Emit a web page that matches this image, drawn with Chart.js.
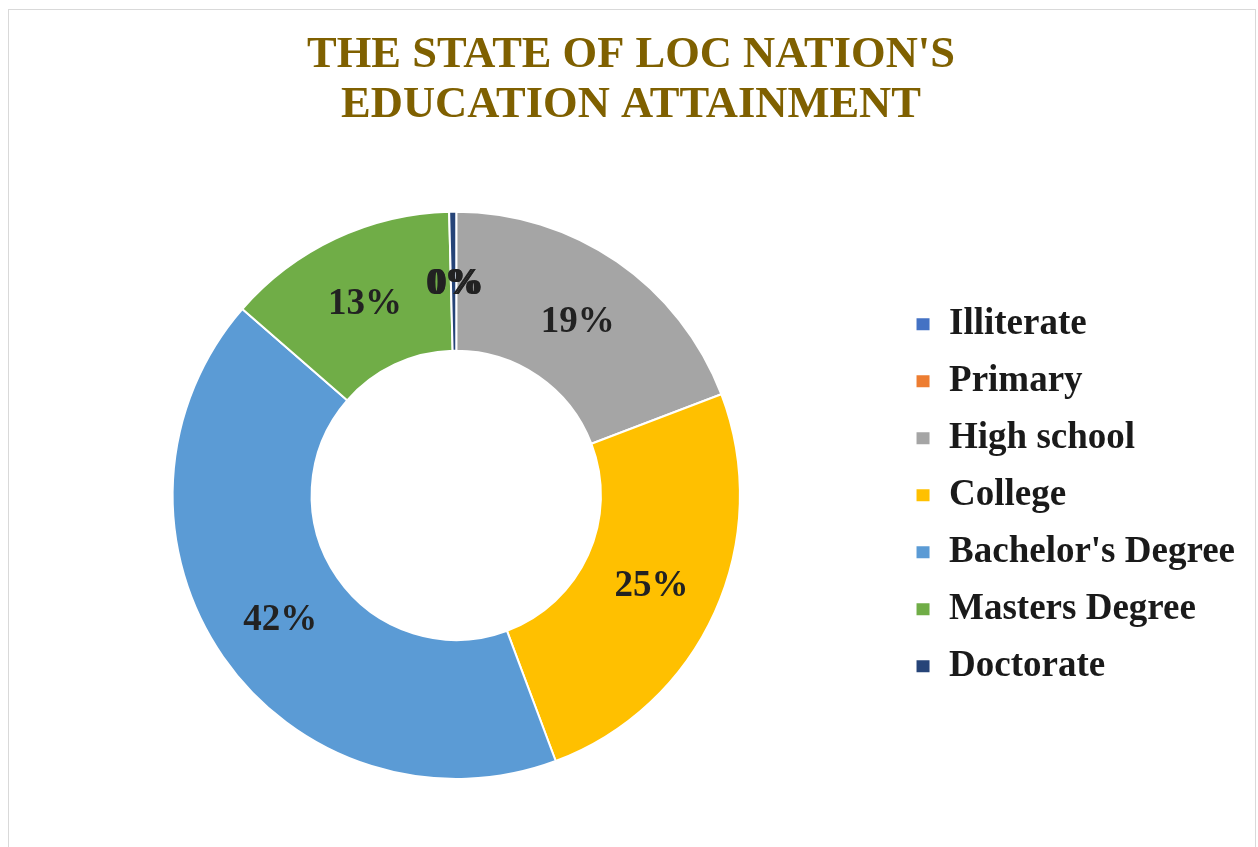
<!DOCTYPE html>
<html>
<head>
<meta charset="utf-8">
<script src="https://cdn.jsdelivr.net/npm/chart.js@4"></script>
<style>
  html, body { margin: 0; padding: 0; background: #fff; overflow: hidden; }
  #frame { position: absolute; left: 8px; top: 9px; width: 1248px; height: 860px; border: 1px solid #d9d9d9; box-sizing: border-box; }
  #chart { position: absolute; left: 3px; top: 1px; }
</style>
</head>
<body>
<div id="frame"></div>
<canvas id="chart" width="1258" height="847"></canvas>
<script>
const titleLines = ["THE STATE OF LOC NATION'S", "EDUCATION ATTAINMENT"];
const categories = ["Illiterate", "Primary", "High school", "College", "Bachelor's Degree", "Masters Degree", "Doctorate"];
const shares = [0, 0, 19.2, 25.1, 42.1, 13.2, 0.4];
const sliceColors = ["#4472C4", "#ED7D31", "#A5A5A5", "#FFC000", "#5B9BD5", "#70AD47", "#264478"];

const serif = "'Liberation Serif', 'Times New Roman', serif";

// percent labels in the middle of each ring segment
const sliceLabels = {
  id: "sliceLabels",
  afterDatasetsDraw(chart) {
    const { ctx } = chart;
    const meta = chart.getDatasetMeta(0);
    const data = chart.data.datasets[0].data;
    const total = data.reduce((a, b) => a + b, 0);
    ctx.save();
    ctx.font = "bold 37px " + serif;
    ctx.fillStyle = "#222222";
    ctx.textAlign = "center";
    ctx.textBaseline = "middle";
    meta.data.forEach((arc, i) => {
      const p = arc.getCenterPoint();
      ctx.fillText(Math.round((data[i] / total) * 100) + "%", p.x, p.y + 3);
    });
    ctx.restore();
  },
};

new Chart(document.getElementById("chart"), {
  type: "doughnut",
  data: {
    labels: categories,
    datasets: [
      {
        data: shares,
        backgroundColor: sliceColors,
        borderColor: "#ffffff",
        borderWidth: 2,
      },
    ],
  },
  options: {
    responsive: false,
    animation: false,
    cutout: "51%",
    layout: { padding: { top: 30, bottom: 68, left: 14, right: 16 } },
    plugins: {
      title: {
        display: true,
        text: titleLines,
        color: "#7F6000",
        font: { family: serif, size: 44.5, weight: "bold", lineHeight: 1.12 },
        padding: { top: 0, bottom: 80 },
      },
      legend: {
        position: "right",
        align: "center",
        fullSize: false,
        labels: {
          boxWidth: 15,
          boxHeight: 14,
          padding: 20,
          color: "#1a1a1a",
          font: { family: serif, size: 37, weight: "bold" },
        },
      },
      tooltip: { enabled: false },
    },
  },
  plugins: [sliceLabels],
});
</script>
</body>
</html>
